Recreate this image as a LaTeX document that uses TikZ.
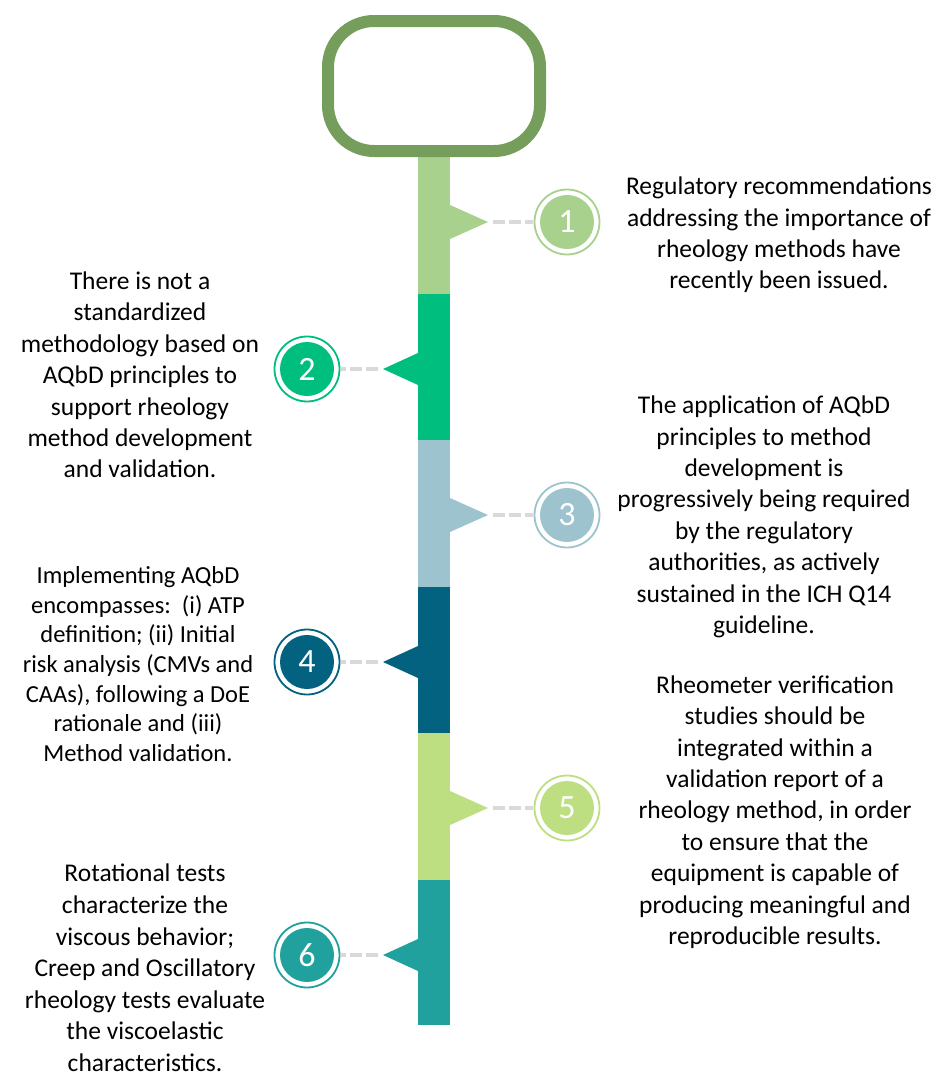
\documentclass[tikz,border=0pt]{standalone}
\usepackage{fontspec}
\setmainfont{Carlito}
\usepackage{tikz}
\usetikzlibrary{positioning}

\definecolor{frame}{HTML}{759D5C}
\definecolor{stepA}{HTML}{A9D18E}
\definecolor{stepB}{HTML}{00BE7D}
\definecolor{stepC}{HTML}{9DC3CE}
\definecolor{stepD}{HTML}{03627F}
\definecolor{stepE}{HTML}{BDDF82}
\definecolor{stepF}{HTML}{21A19D}

\begin{document}
\begin{tikzpicture}[x=1pt,y=-1pt,
	badge/.style={circle,draw=#1,line width=1.8pt,fill=white,minimum size=65pt,inner sep=0pt,
		text=white,font=\fontsize{34}{34}\selectfont,
		path picture={\fill[#1] (path picture bounding box.center) circle (27pt);}},
	link/.style={black!15,line width=4pt,dash pattern=on 12pt off 4pt,shorten <=5pt,shorten >=1pt},
	note/.style={align=center,font=\fontsize{25.5}{31.4}\selectfont}]
\useasboundingbox (0,0) rectangle (939,1084);

% the timeline bar
\foreach \col/\ya/\yb in {stepA/150/294,stepB/294/440,stepC/440/587,stepD/587/733,stepE/733/880,stepF/880/1025}
	\fill[\col] (418,\ya) rectangle (450,\yb);
\draw[frame,line width=12pt,rounded corners=46pt] (328,21) rectangle (540,151);

% flags, badges and dashed links
\foreach \i/\y/\col in {1/222/stepA,3/515/stepC,5/808/stepE} {
	\fill[\col] (450,\y-17) -- (488,\y) coordinate (p\i) -- (450,\y+17) -- cycle;
	\node[badge=\col] (c\i) at (567,\y) {\i};
	\draw[link] (p\i) -- (c\i);
}
\foreach \i/\y/\col in {2/369/stepB,4/662/stepD,6/955/stepF} {
	\fill[\col] (418,\y-16) -- (383,\y) coordinate (p\i) -- (418,\y+16) -- cycle;
	\node[badge=\col] (c\i) at (307,\y) {\i};
	\draw[link] (p\i) -- (c\i);
}

\node[note] (t1) at (779,235) {Regulatory recommendations\\addressing the importance of\\rheology methods have\\recently been issued.};
\node[note] (t2) at (140,375) {There is not a\\standardized\\methodology based on\\AQbD principles to\\support rheology\\method development\\and validation.};
\node[note] (t3) at (764,517) {The application of AQbD\\principles to method\\development is\\progressively being required\\by the regulatory\\authorities, as actively\\sustained in the ICH Q14\\guideline.};
\node[note,font=\fontsize{24.5}{29.7}\selectfont] (t4) at (138,664) {Implementing AQbD\\encompasses:\ \ (i) ATP\\definition; (ii) Initial\\risk analysis (CMVs and\\CAAs), following a DoE\\rationale and (iii)\\Method validation.};
\node[note] (t5) at (775,812) {Rheometer verification\\studies should be\\integrated within a\\validation report of a\\rheology method, in order\\to ensure that the\\equipment is capable of\\producing meaningful and\\reproducible results.};
\node[note,font=\fontsize{25.5}{31.6}\selectfont] (t6) at (145,968) {Rotational tests\\characterize the\\viscous behavior;\\Creep and Oscillatory\\rheology tests evaluate\\the viscoelastic\\characteristics.};
\end{tikzpicture}
\end{document}
